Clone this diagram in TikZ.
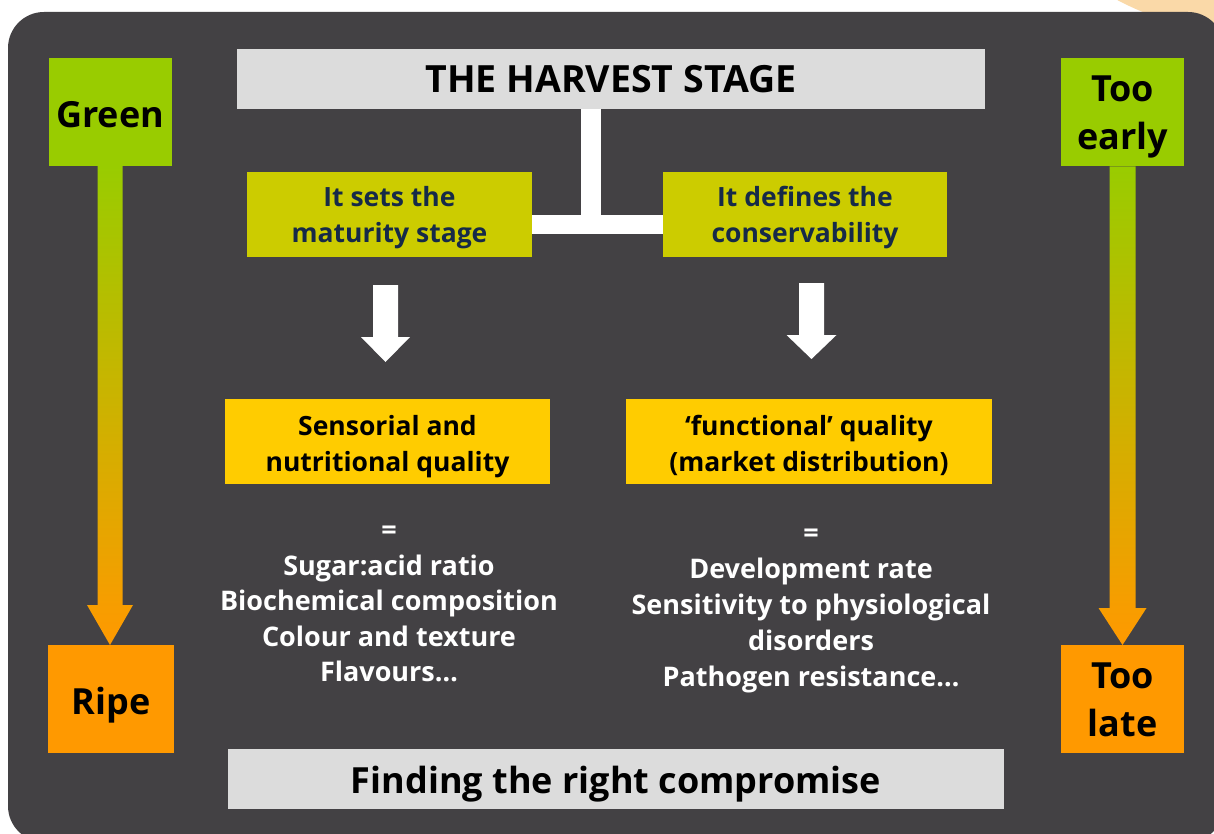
\documentclass[tikz,border=0pt]{standalone}
\usepackage{fontspec}
\setmainfont{Open Sans}
\usetikzlibrary{calc}

\definecolor{slate}{RGB}{67,65,68}
\definecolor{peach}{RGB}{250,217,168}
\definecolor{leaf}{RGB}{153,204,0}
\definecolor{ripe}{RGB}{255,153,0}
\definecolor{olive}{RGB}{204,204,0}
\definecolor{gold}{RGB}{255,204,0}
\definecolor{mist}{RGB}{220,220,220}
\definecolor{navy}{RGB}{22,42,72}

\begin{document}
\begin{tikzpicture}[x=1pt,y=-1pt]
\newcommand\BlockArrow[6]{% options, start, tip, half shaft, half head, head length
  \path[#1] ($(#2)+(-#4,0)$) -- ($(#3)+(-#4,-#6)$) -- ($(#3)+(-#5,-#6)$) -- (#3)
    -- ($(#3)+(#5,-#6)$) -- ($(#3)+(#4,-#6)$) -- ($(#2)+(#4,0)$) -- cycle;
}

\tikzset{%
  inner sep=0pt,%
  outer sep=0pt,%
  box/.style={align=center,text depth=7pt,
    font=\fontsize{26.5}{35.5}\selectfont\bfseries},
  tag/.style={box,minimum width=123pt,minimum height=108pt,
    text height=41pt,text depth=10pt,font=\fontsize{36}{48}\selectfont\bfseries},
  twolines/.style={text height=84.5pt},
  setbox/.style={box,fill=olive,text=navy,minimum width=285pt,minimum height=85pt,
    text height=62.6pt},
  qualbox/.style={box,fill=gold,minimum height=85pt,text height=66pt,
    font=\fontsize{26.5}{36}\selectfont\bfseries},
  banner/.style={align=center,fill=mist,minimum height=60pt},
  list/.style={box,text=white},
  tbar/.style={white,line width=20pt}%
}

%% page and panel

\useasboundingbox (0,0) rectangle (1214,834);
\fill[white] (0,0) rectangle (1214,834);
\fill[peach] (1250,-250) circle (283pt);
\fill[slate,rounded corners=36pt] (8,12) rectangle (1224,842);

%% boxes

\node[banner,minimum width=748pt,font=\fontsize{37.5}{40}\selectfont\bfseries]
  (harvest) at (611,79) {THE HARVEST STAGE};
\node[setbox] (setL) at (389.5,214.5) {It sets the\\maturity stage};
\node[setbox,minimum width=284pt] (setR) at (805,214.5) {It defines the\\conservability};
\node[qualbox,minimum width=325pt] (qualL) at (387.5,441.5)
  {Sensorial and\\nutritional quality};
\node[qualbox,minimum width=366pt] (qualR) at (809,441.5)
  {‘functional’ quality\\(market distribution)};
\node[list,text height=169.4pt,font=\fontsize{27}{35.5}\selectfont\bfseries]
  (listL) at (389,600.5)
  {=\\Sugar:acid ratio\\Biochemical composition\\Colour and texture\\Flavours…};
\node[list,text height=173.4pt,font=\fontsize{27}{36}\selectfont\bfseries]
  (listR) at (811,603.5)
  {=\\Development rate\\Sensitivity to physiological\\disorders\\Pathogen resistance…};
\node[banner,minimum width=776pt,text height=37.6pt,text depth=9pt,
  font=\fontsize{36}{40}\selectfont\bfseries]
  (compromise) at (616,779) {Finding the right compromise};

\node[tag,fill=leaf] (green) at (110,112) {Green};
\node[tag,fill=ripe,minimum width=126pt] (ripe) at (111,699) {Ripe};
\node[tag,twolines,fill=leaf] (early) at (1122.5,112.5) {Too\\early};
\node[tag,twolines,fill=ripe] (late) at (1122.5,699) {Too\\late};

%% T connector

\coordinate (tee) at (591,224.5);
\coordinate (teefoot) at (591,234);
\draw[tbar] (harvest.south -| tee) -- (teefoot);
\draw[tbar,line width=19pt] (setL.east |- tee) -- (setR.west |- tee);

%% arrows

\BlockArrow{fill=white}{$(setL.south)+(-4,28)$}{$(qualL.north)+(-2,-37)$}{12.5}{24.5}{25}
\BlockArrow{fill=white}{$(setR.south)+(6.5,26)$}{$(qualR.north)+(2.5,-40)$}{12.5}{25}{24}
\BlockArrow{top color=leaf,bottom color=ripe}{green.south}{ripe.north -| green}{12.5}{23}{40}
\BlockArrow{top color=leaf,bottom color=ripe}{early.south}{late.north}{13}{24}{37}
\end{tikzpicture}
\end{document}
